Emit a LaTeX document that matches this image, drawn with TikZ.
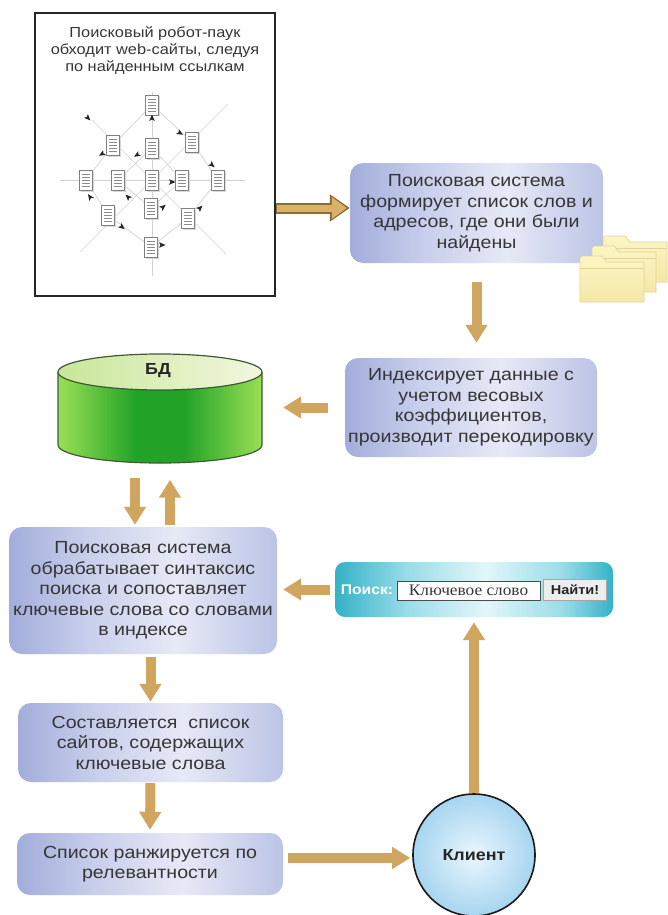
\documentclass[tikz,border=0pt]{standalone}
\usepackage{fontspec}
\setmainfont[FakeStretch=1.12]{Liberation Sans}
\newfontfamily\fieldfont[FakeStretch=1.08]{Liberation Serif}
\usetikzlibrary{arrows.meta}

% palette
\definecolor{flowtan}{HTML}{CFA55F}
\definecolor{flowedge}{HTML}{8E6B2E}
\definecolor{flowgold}{HTML}{D9B266}
\definecolor{boxdark}{HTML}{A2ADDA}
\definecolor{boxmid}{HTML}{C9CFEC}
\definecolor{boxlight}{HTML}{E6E9F6}
\definecolor{boxright}{HTML}{BCC4E6}
\definecolor{inktext}{HTML}{363636}
\definecolor{cyandark}{HTML}{33B2C6}
\definecolor{cyanmid}{HTML}{9ADCE8}
\definecolor{cyanlight}{HTML}{E2F6FA}
\definecolor{dbdark}{HTML}{22A328}
\definecolor{dblight}{HTML}{9ADF55}
\definecolor{dbtop}{HTML}{F2F7DE}
\definecolor{dbtopshade}{HTML}{C9E69A}
\definecolor{dbline}{HTML}{3E5A34}
\definecolor{clientin}{HTML}{EAF6FD}
\definecolor{clientout}{HTML}{A6D5F0}
\definecolor{foldfill}{HTML}{FCF5C4}
\definecolor{foldfill2}{HTML}{F4E8A8}
\definecolor{foldline}{HTML}{E2D496}
\definecolor{gridgray}{HTML}{D2D2D2}

% shadings (the path box is mapped onto 25bp..75bp)
\pgfdeclarehorizontalshading{procshade}{100bp}{color(0bp)=(boxdark); color(25bp)=(boxdark); color(40bp)=(boxmid); color(56bp)=(boxlight); color(75bp)=(boxright); color(100bp)=(boxright)}
\pgfdeclarehorizontalshading{searchshade}{100bp}{color(0bp)=(cyandark); color(25bp)=(cyandark); color(38bp)=(cyanmid); color(52bp)=(cyanlight); color(66bp)=(cyanmid); color(75bp)=(cyandark); color(100bp)=(cyandark)}
\pgfdeclarehorizontalshading{dbside}{100bp}{color(0bp)=(dblight); color(25bp)=(dblight); color(44bp)=(dbdark); color(56bp)=(dbdark); color(75bp)=(dblight); color(100bp)=(dblight)}

\begin{document}
\begin{tikzpicture}[x=1pt,y=-1pt,
  procbox/.style={rectangle, rounded corners=13pt, shading=procshade, text=inktext,
    align=center, inner sep=0pt, font=\fontsize{17.5pt}{20.5pt}\selectfont},
  flow/.style={draw=flowtan, line width=10pt, -{Triangle[width=21pt,length=18pt]}},
  docicon/.pic={
    \fill[black!15] (-5,-8.5) rectangle (8,11.5);
    \filldraw[fill=white, draw=black!50, line width=0.6pt] (-6.5,-10) rectangle (6.5,10);
    \foreach \yy in {-6,-3,0,3,6}
      \draw[black!45, line width=0.5pt] (-4,\yy) -- (4,\yy);
  },
  tipmark/.pic={
    \fill[black!85] (3.5,0) -- (-3,2.8) -- (-1.5,0) -- (-3,-2.8) -- cycle;
  },
  folderpic/.pic={
    \path[draw=foldline, line width=0.7pt, top color=foldfill, bottom color=foldfill2]
      (0,46) -- (0,2) -- (2,0) -- (22,0) -- (27,6) -- (64,6) -- (64,46) -- cycle;
    \draw[foldline, line width=0.6pt] (0,12) -- (64,12);
  }
]
\useasboundingbox (0,0) rectangle (668,915);
\fill[white] (0,0) rectangle (668,915);

% ---- crawler panel ----
\node[draw=black!85, line width=2.4pt, minimum width=240pt, minimum height=283pt,
  inner sep=0pt] (spider) at (155,154.5) {};
\node[text=inktext, align=center, font=\fontsize{14.6pt}{17pt}\selectfont]
  (crawl) at (155,51) {Поисковый робот-паук\\обходит web-сайты, следуя\\по найденным ссылкам};

\begin{scope}[draw=gridgray, line width=0.7pt]
  \draw (60,180) -- (245,180);
  \draw (152,92) -- (152,276);
  \draw (92,120) -- (226,254);
  \draw (80,252) -- (228,104);
  \draw (152,105) -- (192,142) -- (218,180) -- (188,218) -- (151,247) -- (108,215)
        -- (86,180) -- (113,145) -- cycle;
  \draw (152,148) -- (182,180) -- (151,208) -- (118,180) -- cycle;
\end{scope}
\foreach \px/\py in {152/105, 113/145, 152/148, 192/142, 86/180, 118/180, 152/180,
  182/180, 218/180, 108/215, 151/208, 188/218, 151/247}
  \pic at (\px,\py) {docicon};
\foreach \px/\py/\ang in {88/118/-45, 152/118/90, 180/133/-30, 102/154/210,
  137/155/210, 212/165/-40, 172/182/0, 90/197/125, 128/197/135, 163/207/40,
  200/208/45, 122/227/-40, 162/245/0}
  \pic[rotate=\ang] at (\px,\py) {tipmark};

% ---- process boxes ----
\node[procbox, minimum width=253pt, minimum height=100pt] (index) at (476.5,213)
  {Поисковая система\\формирует список слов и\\адресов, где они были\\найдены};

\pic at (603,236) {folderpic};
\pic at (592,246) {folderpic};
\pic at (580,256) {folderpic};

\node[procbox, minimum width=252pt, minimum height=99pt] (weigh) at (471,407.5)
  {Индексирует данные с\\учетом весовых\\коэффициентов,\\производит перекодировку};

% ---- database cylinder ----
\node[minimum width=204pt, minimum height=110pt, inner sep=0pt] (db) at (160,408.5) {};
\shade[shading=dbside] (58,372) -- (58,445)
  arc[start angle=180, end angle=0, x radius=102, y radius=18] -- (262,372)
  arc[start angle=0, end angle=180, x radius=102, y radius=18] -- cycle;
\draw[dbline, line width=1.2pt] (58,372) -- (58,445)
  arc[start angle=180, end angle=0, x radius=102, y radius=18] -- (262,372);
\path[draw=dbline, line width=1.2pt, shade, left color=dbtopshade, right color=dbtop]
  (160,372) ellipse[x radius=102, y radius=18];
\node[font=\bfseries\fontsize{16pt}{16pt}\selectfont, text=black!85] (dblabel)
  at (158,371) {БД};

\node[procbox, minimum width=268pt, minimum height=127pt] (match) at (143,590.5)
  {Поисковая система\\обрабатывает синтаксис\\поиска и сопоставляет\\ключевые слова со словами\\в индексе};

% ---- search form ----
\node[rectangle, rounded corners=10pt, shading=searchshade, minimum width=278pt,
  minimum height=55pt, inner sep=0pt] (widget) at (474,589.5) {};
\node[font=\bfseries\fontsize{14pt}{14pt}\selectfont, text=white] (searchlbl)
  at (367,590) {Поиск:};
\node[fill=white, draw=black!70, line width=0.8pt, minimum width=143pt,
  minimum height=19pt, inner sep=0pt, text=inktext,
  font=\fieldfont\fontsize{16pt}{16pt}\selectfont] (field) at (468.5,590.5) {Ключевое слово};
\node[fill=black!7, draw=black!35, line width=0.6pt, minimum width=63pt,
  minimum height=21pt, inner sep=0pt, text=black!85,
  font=\bfseries\fontsize{13pt}{13pt}\selectfont] (findbtn) at (575,590) {Найти!};

\node[procbox, minimum width=265pt, minimum height=79pt] (collect) at (150.5,742.5)
  {Составляется\ \ список\\сайтов, содержащих\\ключевые слова};
\node[procbox, minimum width=266pt, minimum height=62pt] (rank) at (150,864)
  {Список ранжируется по\\релевантности};

\node[circle, draw=black!90, line width=1.6pt, inner color=clientin,
  outer color=clientout, minimum size=122pt, inner sep=0pt, text=black!85,
  font=\bfseries\fontsize{16pt}{16pt}\selectfont] (client) at (474,855) {Клиент};

% ---- connectors ----
\draw[flowedge, line width=11pt, -{Triangle[width=26pt,length=20pt]}]
  ([yshift=5pt]index.west -| spider.east) -- ([yshift=5pt]index.west);
\draw[flowgold, line width=7pt, -{Triangle[width=21pt,length=15pt]}, shorten >=3pt, shorten <=1pt]
  ([yshift=5pt]index.west -| spider.east) -- ([yshift=5pt]index.west);

\draw[flow, shorten <=19pt, shorten >=15pt] (index.south) -- (index.south |- weigh.north);
\draw[flow, shorten <=17pt, shorten >=21pt] (weigh.west) -- (weigh.west -| db.east);
\draw[flow, shorten <=14pt, shorten >=2pt]
  ([xshift=-25pt]db.south) -- ([xshift=-25pt]db.south |- match.north);
\draw[flow, shorten <=2pt, shorten >=16pt]
  ([xshift=10pt]db.south |- match.north) -- ([xshift=10pt]db.south);
\draw[flow, shorten <=5pt, shorten >=6pt] (widget.west) -- (widget.west -| match.east);
\draw[flow, shorten <=3pt, shorten >=1pt] (collect.north |- match.south) -- (collect.north);
\draw[flow, shorten <=1pt, shorten >=3pt] (collect.south) -- (rank.north);
\draw[flow, shorten <=5pt, shorten >=2pt]
  ([yshift=-3pt]client.west -| rank.east) -- ([yshift=-3pt]client.west);
\draw[flow, shorten >=5pt] (client.north) -- (client.north |- widget.south);
\end{tikzpicture}
\end{document}
